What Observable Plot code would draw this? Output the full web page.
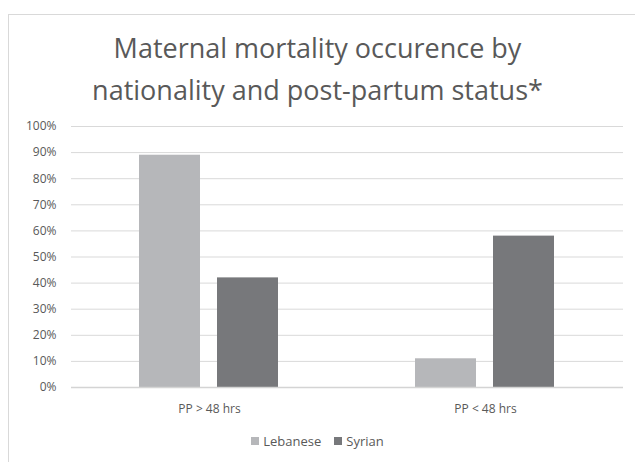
<!DOCTYPE html>
<html>
<head>
<meta charset="utf-8">
<script src="https://cdn.jsdelivr.net/npm/d3@7"></script>
<script src="https://cdn.jsdelivr.net/npm/@observablehq/plot@0.6"></script>
<style>
  html, body { margin: 0; padding: 0; background: #fff; overflow: hidden; }
  #wrap { position: relative; width: 635px; height: 462px; overflow: hidden; font-family: "Open Sans", sans-serif; }
  #frame { position: absolute; left: 8px; top: 14px; width: 700px; height: 520px; border: 1px solid #d9d9d9; box-sizing: border-box; }
  #title { position: absolute; left: 0; top: 27px; width: 635px; text-align: center; font-size: 27px; line-height: 42px; color: #595959; }
  #chart { position: absolute; left: 0; top: 110px; }
  #legend { position: absolute; left: 0; top: 432px; width: 635px; display: flex; justify-content: center; align-items: center; font-size: 13px; color: #595959; gap: 13px; }
  .sw { display: inline-flex; align-items: center; gap: 4px; }
  .sq { width: 8px; height: 8px; display: inline-block; }
</style>
</head>
<body>
<div id="wrap">
  <div id="frame"></div>
  <div id="title">Maternal mortality occurence by<br>nationality and post-partum status*</div>
  <div id="chart"></div>
  <div id="legend"></div>
</div>
<script>
const groups = ["PP > 48 hrs", "PP < 48 hrs"];
const nationalities = ["Lebanese", "Syrian"];
const lebaneseValues = [0.89, 0.11];
const syrianValues = [0.42, 0.58];
const yTicks = [0, 0.1, 0.2, 0.3, 0.4, 0.5, 0.6, 0.7, 0.8, 0.9, 1];
const colors = ["#b6b7ba", "#77787b"];

const data = [];
groups.forEach((g, i) => {
  data.push({group: g, nationality: nationalities[0], value: lebaneseValues[i]});
  data.push({group: g, nationality: nationalities[1], value: syrianValues[i]});
});

const chart = Plot.plot({
  width: 635,
  height: 312,
  marginLeft: 70,
  marginRight: 12,
  marginTop: 16,
  marginBottom: 35,
  style: {fontFamily: "'Open Sans', sans-serif", fontSize: "12px", color: "#595959", background: "transparent"},
  fx: {domain: groups, padding: 0, label: null, axis: "bottom", tickSize: 0, tickPadding: 17},
  x: {domain: nationalities, axis: null, paddingInner: 0.215, paddingOuter: 0.857},
  y: {domain: [0, 1], ticks: yTicks, tickFormat: d3.format(".0%"), tickSize: 0, tickPadding: 15, label: null},
  color: {domain: nationalities, range: colors},
  marks: [
    Plot.gridY(yTicks.filter(d => d > 0), {stroke: "#d9d9d9", strokeOpacity: 1, strokeWidth: 1}),
    Plot.barY(data, {fx: "group", x: "nationality", y: "value", fill: "nationality"}),
    Plot.ruleY([0], {stroke: "#d4d4d4", strokeWidth: 1.5})
  ]
});
document.getElementById("chart").appendChild(chart);

const legend = document.getElementById("legend");
nationalities.forEach((n, i) => {
  const s = document.createElement("span");
  s.className = "sw";
  const q = document.createElement("span");
  q.className = "sq";
  q.style.background = colors[i];
  s.appendChild(q);
  s.appendChild(document.createTextNode(n));
  legend.appendChild(s);
});
</script>
</body>
</html>
